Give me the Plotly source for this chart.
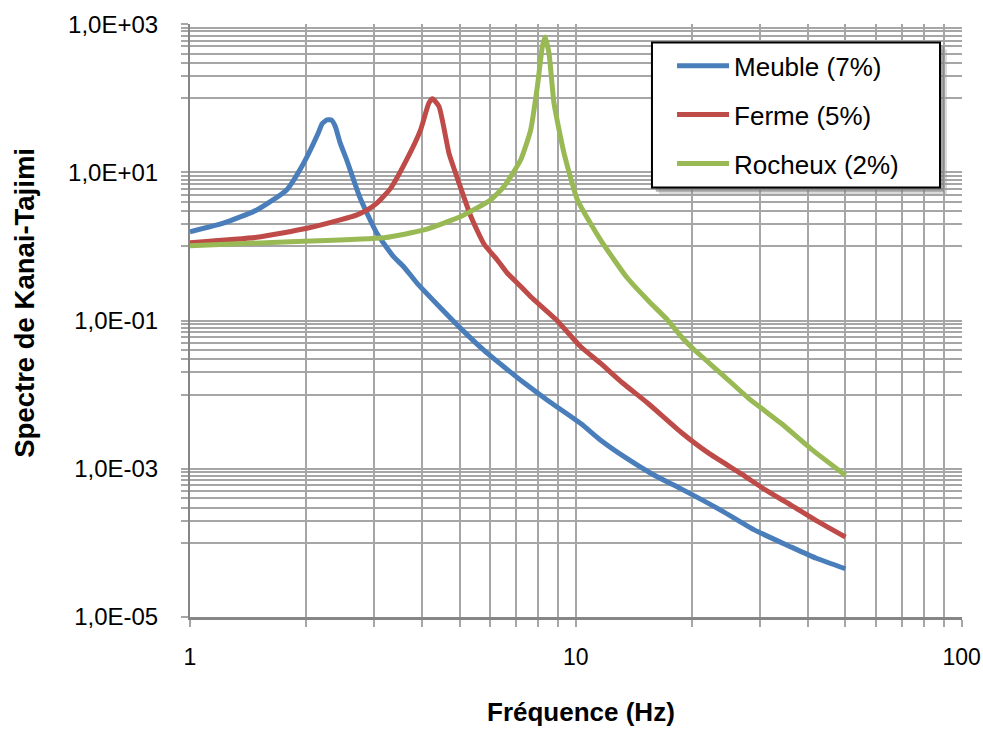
import plotly.graph_objects as go

# Kanai-Tajimi spectra for three soil types
freq_meuble = [1.00, 1.22, 1.49, 1.78, 1.97, 2.15, 2.20, 2.265, 2.33, 2.38, 2.45, 2.55, 2.76,
               3.05, 3.37, 3.58, 3.88, 4.40, 5.03, 5.80, 6.51, 7.40, 8.44, 10.3, 11.6, 13.5,
               15.97, 18.7, 23.8, 29.0, 36.2, 42.0, 50.0]
spec_meuble = [1.58, 2.06, 3.11, 5.8, 13.3, 33.9, 45.2, 51.2, 50.5, 41.6, 25.0, 14.5, 4.5,
               1.51, 0.728, 0.533, 0.318, 0.160, 0.0785, 0.0390, 0.0238, 0.0140, 0.00843,
               0.00408, 0.00243, 0.00140, 8.17e-4, 5.4e-4, 2.75e-4, 1.50e-4, 8.77e-5, 6.2e-5, 4.48e-5]

freq_ferme = [1.00, 1.49, 2.01, 2.45, 2.71, 2.88, 3.05, 3.31, 3.68, 3.96, 4.16, 4.25, 4.42, 4.69,
              4.88, 5.34, 5.78, 6.26, 6.65, 7.10, 7.64, 8.87, 10.3, 11.6, 13.2, 15.4, 18.7, 22.0,
              26.8, 31.0, 36.2, 42.0, 50.0]
spec_ferme = [1.12, 1.33, 1.76, 2.28, 2.67, 3.11, 3.84, 6.08, 16.4, 37.5, 86.0, 98.4, 77.4, 18.2,
              9.75, 2.58, 1.08, 0.658, 0.435, 0.310, 0.21, 0.104, 0.0443, 0.0264, 0.0145, 0.0076,
              0.00314, 0.00165, 8.6e-4, 5.2e-4, 3.21e-4, 2.0e-4, 1.2e-4]

freq_rocheux = [1.00, 1.82, 3.18, 4.04, 5.03, 6.01, 6.51, 7.20, 7.64, 7.95, 8.19, 8.32, 8.52,
                8.78, 9.32, 10.1, 11.6, 13.6, 15.5, 17.3, 18.7, 20.3, 23.8, 28.0, 34.1, 41.0, 50.0]
spec_rocheux = [1.02, 1.16, 1.31, 1.67, 2.53, 4.25, 6.43, 14.8, 37.5, 144.0, 501.0, 672.0, 408.0,
                86.0, 18.2, 4.25, 1.22, 0.375, 0.180, 0.1016, 0.0620, 0.040, 0.0193, 0.0090,
                0.00408, 0.00180, 8.17e-4]

series_names = ["Meuble (7%)", "Ferme (5%)", "Rocheux (2%)"]
series_colors = ["#4A7EBB", "#BE4B48", "#98B954"]

x_major = [1, 10, 100]
x_major_text = ["1", "10", "100"]
x_minor = [2, 3, 4, 5, 6, 7, 8, 9, 20, 30, 40, 50, 60, 70, 80, 90]

y_major = [1e-5, 1e-3, 1e-1, 1e1, 1e3]
y_major_text = ["1,0E-05", "1,0E-03", "1,0E-01", "1,0E+01", "1,0E+03"]
y_minor = [k * 1e-4 for k in range(1, 10)] + [k * 1e-2 for k in range(1, 10)] + \
          [k * 1.0 for k in range(1, 10)] + [k * 100.0 for k in range(1, 10)]

FONT = "Liberation Sans, Arial, sans-serif"
GRID = "#A6A6A6"
AXIS = "#868686"

fig = go.Figure()
for i, (fx, sy) in enumerate([(freq_meuble, spec_meuble),
                              (freq_ferme, spec_ferme),
                              (freq_rocheux, spec_rocheux)]):
    fig.add_trace(go.Scatter(
        x=fx, y=sy, mode="lines", name=series_names[i],
        legendgroup=series_names[i],
        line=dict(color=series_colors[i], width=5, shape="spline", smoothing=0.5),
    ))

# legend frame with a soft drop shadow (paper coordinates of the plot area)
legend_box = dict(x0=0.5984, x1=0.9715, y0=0.7241, y1=0.9688)
shapes = [
    dict(type="rect", xref="paper", yref="paper", layer="above",
         x0=legend_box["x0"] + 0.009, x1=legend_box["x1"] + 0.009,
         y0=legend_box["y0"] - 0.012, y1=legend_box["y1"] - 0.012,
         fillcolor="rgba(150,150,150,0.35)", line=dict(width=0)),
    dict(type="rect", xref="paper", yref="paper", layer="above",
         x0=legend_box["x0"] + 0.005, x1=legend_box["x1"] + 0.005,
         y0=legend_box["y0"] - 0.007, y1=legend_box["y1"] - 0.007,
         fillcolor="rgba(120,120,120,0.55)", line=dict(width=0)),
    dict(type="rect", xref="paper", yref="paper", layer="above",
         fillcolor="white", line=dict(color="black", width=2), **legend_box),
]

fig.update_layout(
    width=983, height=729,
    margin=dict(l=190, r=21, t=24, b=112),
    paper_bgcolor="white", plot_bgcolor="white",
    font=dict(family=FONT, color="black", size=24),
    showlegend=True,
    legend=dict(
        x=0.6244, y=0.969, xanchor="left", yanchor="top",
        bgcolor="rgba(0,0,0,0)", borderwidth=0,
        font=dict(family=FONT, size=26, color="black"),
        tracegroupgap=12, itemwidth=52,
    ),
    shapes=shapes,
    xaxis=dict(
        type="log", range=[0, 2.001], automargin=False,
        tickmode="array", tickvals=x_major, ticktext=x_major_text,
        ticks="outside", ticklen=7, tickwidth=2, tickcolor=GRID,
        showgrid=True, gridcolor=GRID, gridwidth=2,
        showline=True, linecolor=AXIS, linewidth=3,
        tickfont=dict(size=23), ticklabelstandoff=10,
        minor=dict(tickvals=x_minor, showgrid=True, gridcolor=GRID, gridwidth=2,
                   ticks="outside", ticklen=7, tickwidth=2, tickcolor=GRID),
    ),
    yaxis=dict(
        type="log", range=[-5, 3.002], automargin=False,
        tickmode="array", tickvals=y_major, ticktext=y_major_text,
        ticks="outside", ticklen=7, tickwidth=2, tickcolor=GRID,
        showgrid=True, gridcolor=GRID, gridwidth=2,
        showline=True, linecolor=AXIS, linewidth=2,
        tickfont=dict(size=24), ticklabelstandoff=18,
        minor=dict(tickvals=y_minor, showgrid=True, gridcolor=GRID, gridwidth=2,
                   ticks="outside", ticklen=7, tickwidth=2, tickcolor=GRID),
    ),
    annotations=[
        dict(text="<b>Fréquence (Hz)</b>", xref="paper", yref="paper",
             x=0.5065, y=-0.161, xanchor="center", yanchor="middle",
             showarrow=False, font=dict(size=26, family=FONT)),
        dict(text="<b>Spectre de Kanai-Tajimi</b>", xref="paper", yref="paper",
             x=-0.2137, y=0.53, xanchor="center", yanchor="middle", textangle=-90,
             showarrow=False, font=dict(size=27.5, family=FONT)),
    ],
)

fig.write_html("out.html")
